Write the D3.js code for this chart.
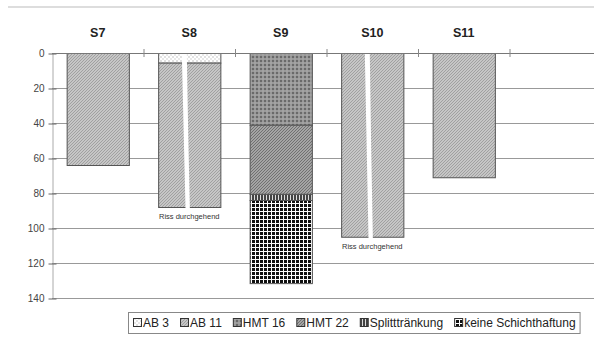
<!DOCTYPE html>
<html>
<head>
<meta charset="utf-8">
<script src="https://cdn.jsdelivr.net/npm/d3@7"></script>
<style>
  body { margin: 0; background: #fff; }
  svg { display: block; font-family: "Liberation Sans", Arial, sans-serif; }
</style>
</head>
<body>
<svg id="drawing_region"></svg>
<script>
// categories (test sections) and layer thicknesses
const categories = ["S7", "S8", "S9", "S10", "S11"];
const seriesNames = ["AB 3", "AB 11", "HMT 16", "HMT 22", "Splitttränkung", "keine Schichthaftung"];
const ab3    = [0, 5.5, 0, 0, 0];
const ab11   = [64, 82.5, 0, 105, 71];
const hmt16  = [0, 0, 41, 0, 0];
const hmt22  = [0, 0, 39.5, 0, 0];
const split  = [0, 0, 3.5, 0, 0];
const keine  = [0, 0, 47.5, 0, 0];
const cracks = ["", "Riss durchgehend", "", "Riss durchgehend", ""];
const yTicks = [0, 20, 40, 60, 80, 100, 120, 140];

const series = [ab3, ab11, hmt16, hmt22, split, keine];
const patternIds = ["p_ab3", "p_ab11", "p_hmt16", "p_hmt22", "p_split", "p_keine"];

const config = {
    width: 594,
    height: 338,
    margin: {top: 53, right: 0, bottom: 40, left: 52}
};

const svg = d3.select('#drawing_region')
    .attr('width', config.width)
    .attr('height', config.height);

// fill patterns imitating the printed hatchings
const defs = svg.append('defs');
function pat(id, size, bg) {
    const p = defs.append('pattern')
        .attr('id', id)
        .attr('patternUnits', 'userSpaceOnUse')
        .attr('width', size).attr('height', size);
    p.append('rect').attr('width', size).attr('height', size).attr('fill', bg);
    return p;
}
let p = pat('p_ab3', 4, '#fff');
p.append('circle').attr('cx', 1).attr('cy', 1).attr('r', 0.8).attr('fill', '#bbb');
p.append('circle').attr('cx', 3).attr('cy', 3).attr('r', 0.8).attr('fill', '#ccc');

p = pat('p_ab11', 3, '#c6c6c6');
p.append('path').attr('d', 'M0,3 L3,0').attr('stroke', '#9c9c9c').attr('stroke-width', 0.9);

p = pat('p_hmt16', 4, '#999');
p.append('rect').attr('x', 0).attr('y', 0).attr('width', 2).attr('height', 2).attr('fill', '#6a6a6a');
p.append('circle').attr('cx', 3).attr('cy', 3).attr('r', 0.7).attr('fill', '#b5b5b5');

p = pat('p_hmt22', 3, '#a4a4a4');
p.append('path').attr('d', 'M0,3 L3,0').attr('stroke', '#707070').attr('stroke-width', 1);

p = pat('p_split', 3, '#444');
p.append('rect').attr('x', 2).attr('y', 0).attr('width', 1).attr('height', 3).attr('fill', '#ddd');

p = pat('p_keine', 4, '#fff');
p.append('rect').attr('x', 0).attr('y', 0).attr('width', 3).attr('height', 3).attr('fill', '#111');

// faint rule of the scanned page header
svg.append('line')
    .attr('x1', 8).attr('x2', 594).attr('y1', 7).attr('y2', 7)
    .attr('stroke', '#bbb').attr('stroke-width', 1);

const xscale = d3.scaleBand()
    .domain(categories)
    .range([config.margin.left, config.margin.left + 91.5 * categories.length])
    .paddingInner(0.32)
    .paddingOuter(0.16);

const yscale = d3.scaleLinear()
    .domain([0, 140])
    .range([config.margin.top, config.height - config.margin.bottom]);

// gridlines
svg.append('g')
    .selectAll('line')
    .data(yTicks)
    .join('line')
    .attr('x1', config.margin.left)
    .attr('x2', config.width)
    .attr('y1', d => yscale(d) + 0.5)
    .attr('y2', d => yscale(d) + 0.5)
    .attr('stroke', '#999')
    .attr('stroke-width', 1);

// y axis
const yaxis = d3.axisLeft(yscale)
    .tickValues(yTicks)
    .tickSizeInner(4)
    .tickSizeOuter(0)
    .tickPadding(4);
const yg = svg.append('g')
    .attr('transform', `translate(${config.margin.left + 0.5}, 0.5)`)
    .call(yaxis);
yg.select('.domain').attr('stroke', '#aaa');
yg.selectAll('.tick line').attr('stroke', '#666').attr('x2', 4).attr('x1', -4);
yg.selectAll('.tick text').attr('fill', '#444').attr('font-size', 10)
    .attr('font-family', '"Liberation Sans", Arial, sans-serif');

// stacked layers
const stacked = d3.stack()
    .keys(d3.range(series.length))
    .value((d, k) => series[k][d])(d3.range(categories.length));

const layers = svg.append('g');
stacked.forEach((layer, k) => {
    layers.selectAll(null)
        .data(layer.map((v, i) => ({i: i, y0: v[0], y1: v[1]})).filter(d => d.y1 > d.y0))
        .join('rect')
        .attr('x', d => xscale(categories[d.i]) + 0.5)
        .attr('y', d => yscale(d.y0) + 0.5)
        .attr('width', xscale.bandwidth())
        .attr('height', d => yscale(d.y1) - yscale(d.y0))
        .attr('fill', `url(#${patternIds[k]})`)
        .attr('stroke', '#555')
        .attr('stroke-width', 1);
});

// through-going cracks: white gap cut into the bar
const totals = categories.map((c, i) => d3.sum(series, s => s[i]));
cracks.forEach((label, i) => {
    if (!label) return;
    const x0 = xscale(categories[i]);
    const w = xscale.bandwidth();
    const top = yscale(0) - 1;
    const bot = yscale(totals[i]) + 2;
    const mid = (top + bot) / 2;
    const path = d3.path();
    path.moveTo(x0 + w * 0.38, top);
    path.quadraticCurveTo(x0 + w * 0.41, mid, x0 + w * 0.44, bot);
    path.lineTo(x0 + w * 0.51, bot);
    path.quadraticCurveTo(x0 + w * 0.48, mid, x0 + w * 0.46, top);
    path.closePath();
    svg.append('path').attr('d', path.toString()).attr('fill', '#fff');

    svg.append('text')
        .attr('x', x0 + w / 2)
        .attr('y', yscale(totals[i]) + 12)
        .attr('text-anchor', 'middle')
        .attr('font-size', 7.5)
        .attr('fill', '#333')
        .text(label);
});

// zero axis with category separators on top
svg.append('line')
    .attr('x1', config.margin.left).attr('x2', config.width)
    .attr('y1', yscale(0) + 0.5).attr('y2', yscale(0) + 0.5)
    .attr('stroke', '#777');
svg.append('g')
    .selectAll('line')
    .data(categories.slice(1).concat(['end']))
    .join('line')
    .attr('x1', (d, i) => xscale.range()[0] + xscale.step() * (i + 1) + 0.5)
    .attr('x2', (d, i) => xscale.range()[0] + xscale.step() * (i + 1) + 0.5)
    .attr('y1', yscale(0) - 4)
    .attr('y2', yscale(0) + 4)
    .attr('stroke', '#888');

// category labels above the bars
svg.append('g')
    .selectAll('text')
    .data(categories)
    .join('text')
    .attr('x', d => xscale(d) + xscale.bandwidth() / 2)
    .attr('y', 37)
    .attr('text-anchor', 'middle')
    .attr('font-size', 12.5)
    .attr('font-weight', 'bold')
    .attr('fill', '#222')
    .text(d => d);

// legend
const legend = svg.append('g');
const legendBox = legend.append('rect')
    .attr('x', 128.5).attr('y', 312.5)
    .attr('height', 21)
    .attr('fill', '#fff')
    .attr('stroke', '#888');
let lx = 133;
seriesNames.forEach((name, k) => {
    legend.append('rect')
        .attr('x', lx + 0.5).attr('y', 318.5)
        .attr('width', 8).attr('height', 8)
        .attr('fill', `url(#${patternIds[k]})`)
        .attr('stroke', '#333');
    const t = legend.append('text')
        .attr('x', lx + 10)
        .attr('y', 327)
        .attr('font-size', 12)
        .attr('fill', '#222')
        .text(name);
    lx += 10 + t.node().getComputedTextLength() + 11;
});
legendBox.attr('width', lx - 128 - 7);
</script>
</body>
</html>
